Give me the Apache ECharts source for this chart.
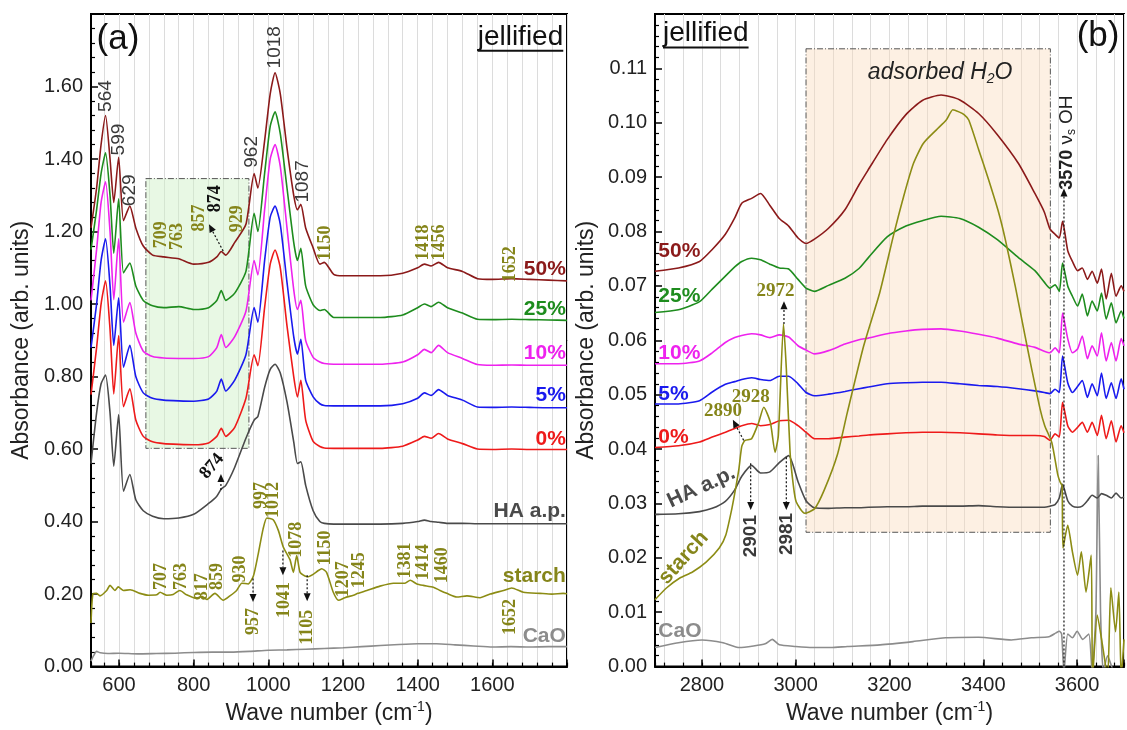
<!DOCTYPE html>
<html><head><meta charset="utf-8">
<script src="https://cdn.jsdelivr.net/npm/echarts@6/dist/echarts.min.js"></script>
<style>html,body{margin:0;padding:0;background:#fff;overflow:hidden}#c{width:1127px;height:730px}</style>
</head><body><div id="c"></div>
<script>
// ---------- Panel (a) data: 500-1800 cm-1 ----------
const waveA = [525,540,552,564,576,586,599,612,629,645,665,690,720,760,800,840,862,874,886,910,940,962,972,990,1005,1018,1032,1050,1068,1078,1087,1100,1120,1138,1150,1175,1200,1300,1360,1400,1418,1436,1456,1480,1520,1560,1600,1652,1700,1750,1800];
const a50 = [1.21,1.32,1.44,1.52,1.40,1.28,1.405,1.23,1.27,1.21,1.16,1.135,1.13,1.125,1.11,1.115,1.13,1.145,1.135,1.17,1.22,1.36,1.32,1.45,1.58,1.638,1.58,1.43,1.30,1.26,1.275,1.21,1.155,1.11,1.115,1.082,1.078,1.078,1.085,1.10,1.11,1.105,1.115,1.10,1.09,1.07,1.068,1.07,1.068,1.066,1.064];
const a25 = [1.15,1.26,1.36,1.417,1.30,1.14,1.29,1.086,1.113,1.05,1.01,0.995,0.99,0.993,0.985,0.99,1.01,1.037,1.01,1.03,1.09,1.25,1.20,1.36,1.49,1.53,1.47,1.32,1.17,1.12,1.154,1.05,0.998,0.982,0.985,0.963,0.963,0.963,0.97,0.99,1.00,0.993,1.005,0.99,0.975,0.958,0.957,0.958,0.957,0.956,0.955];
const a10 = [1.01,1.15,1.28,1.337,1.20,1.012,1.18,0.95,1.004,0.92,0.87,0.855,0.851,0.85,0.85,0.855,0.88,0.916,0.88,0.91,0.98,1.12,1.08,1.26,1.40,1.44,1.38,1.21,1.04,0.985,1.01,0.90,0.853,0.84,0.836,0.834,0.834,0.834,0.84,0.86,0.875,0.866,0.886,0.866,0.85,0.833,0.831,0.832,0.831,0.831,0.831];
const a5 = [0.88,1.00,1.12,1.18,1.05,0.886,1.017,0.826,0.886,0.80,0.755,0.74,0.735,0.733,0.732,0.738,0.76,0.793,0.76,0.79,0.86,0.99,0.95,1.12,1.24,1.27,1.22,1.06,0.91,0.862,0.903,0.79,0.744,0.725,0.72,0.719,0.719,0.719,0.725,0.74,0.755,0.748,0.764,0.748,0.735,0.716,0.715,0.716,0.715,0.714,0.714];
const a0 = [0.75,0.88,1.00,1.064,0.93,0.752,0.913,0.717,0.766,0.68,0.635,0.62,0.615,0.613,0.612,0.617,0.635,0.657,0.635,0.66,0.74,0.86,0.83,0.99,1.11,1.149,1.10,0.94,0.80,0.744,0.79,0.68,0.621,0.607,0.603,0.602,0.602,0.602,0.608,0.625,0.635,0.63,0.643,0.628,0.615,0.600,0.599,0.60,0.599,0.599,0.599];
const aHA = [0.56,0.70,0.78,0.804,0.70,0.553,0.695,0.484,0.53,0.46,0.43,0.415,0.408,0.41,0.42,0.45,0.47,0.49,0.50,0.55,0.63,0.68,0.69,0.77,0.82,0.834,0.81,0.73,0.62,0.56,0.565,0.50,0.43,0.40,0.395,0.393,0.393,0.393,0.395,0.40,0.404,0.40,0.398,0.395,0.395,0.394,0.394,0.394,0.394,0.394,0.394];
const waveStarchA = [525,530,540,549,567,576,589,598,612,630,656,679,701,710,728,745,763,781,808,822,835,857,879,897,915,929,946,960,972,986,996,1013,1027,1040,1058,1067,1076,1085,1098,1107,1121,1134,1143,1156,1174,1188,1205,1228,1240,1264,1299,1335,1366,1380,1398,1415,1442,1460,1478,1505,1532,1567,1594,1630,1652,1683,1728,1760,1790,1800];
const starchA = [0.12,0.20,0.202,0.195,0.21,0.224,0.21,0.22,0.21,0.212,0.202,0.197,0.198,0.205,0.197,0.199,0.21,0.198,0.188,0.194,0.185,0.202,0.183,0.195,0.21,0.23,0.228,0.25,0.306,0.38,0.41,0.405,0.375,0.33,0.295,0.26,0.306,0.26,0.25,0.248,0.255,0.265,0.27,0.26,0.205,0.183,0.19,0.197,0.202,0.21,0.222,0.23,0.23,0.238,0.228,0.224,0.219,0.21,0.202,0.192,0.195,0.19,0.2,0.21,0.217,0.205,0.202,0.2,0.202,0.201];
const waveCaOA = [525,532,540,550,570,600,650,700,750,800,850,900,950,1000,1050,1100,1150,1200,1250,1300,1350,1400,1450,1500,1550,1600,1650,1700,1750,1800];
const caoA = [0.015,0.03,0.042,0.038,0.036,0.037,0.035,0.036,0.037,0.039,0.04,0.04,0.042,0.045,0.046,0.048,0.05,0.052,0.055,0.058,0.061,0.063,0.063,0.06,0.057,0.054,0.055,0.054,0.055,0.055];

// ---------- Panel (b) data: 2700-3700 cm-1 ----------
const waveB = [2700,2750,2795,2822,2850,2870,2885,2906,2925,2945,2965,2985,3005,3022,3040,3070,3105,3135,3155,3195,3235,3270,3310,3350,3390,3430,3475,3510,3530,3542,3553,3562,3569,3580,3590,3601,3611,3622,3632,3643,3652,3662,3673,3683,3694,3700];
const b50 = [0.0727,0.0733,0.0745,0.0767,0.0795,0.0825,0.0852,0.0861,0.0870,0.0848,0.0824,0.0810,0.0788,0.0778,0.0786,0.0806,0.0840,0.0886,0.0914,0.0969,0.1015,0.1041,0.1051,0.1042,0.1017,0.0978,0.0925,0.0870,0.0836,0.0805,0.0795,0.0788,0.0819,0.0765,0.0745,0.0728,0.0733,0.0712,0.0727,0.0705,0.0731,0.0676,0.0723,0.0681,0.0700,0.0690];
const b25 = [0.0651,0.0656,0.0671,0.0694,0.0718,0.0735,0.0745,0.0751,0.0748,0.0740,0.0733,0.0731,0.0712,0.0696,0.0690,0.0701,0.0714,0.0732,0.0752,0.0790,0.0810,0.0820,0.0828,0.0824,0.0808,0.0785,0.0752,0.0728,0.0707,0.0696,0.0702,0.0690,0.0742,0.0700,0.0681,0.0663,0.0685,0.0645,0.0672,0.0654,0.0687,0.0639,0.0669,0.0632,0.0654,0.0640];
const b10 = [0.0557,0.0557,0.0562,0.0577,0.0596,0.0605,0.0609,0.0612,0.0610,0.0605,0.0610,0.0606,0.0590,0.0582,0.0575,0.0581,0.0593,0.0601,0.0604,0.0612,0.0617,0.0620,0.0621,0.0617,0.0611,0.0604,0.0593,0.0587,0.0580,0.0577,0.0586,0.0577,0.0650,0.0603,0.0577,0.0584,0.0608,0.0566,0.0590,0.0571,0.0614,0.0562,0.0596,0.0562,0.0603,0.0590];
const b5 = [0.0483,0.0483,0.0489,0.0505,0.0519,0.0524,0.0528,0.0531,0.0528,0.0526,0.0534,0.0534,0.0520,0.0504,0.0498,0.0501,0.0506,0.0511,0.0514,0.0520,0.0522,0.0523,0.0523,0.0520,0.0517,0.0515,0.0511,0.0507,0.0504,0.0502,0.0510,0.0504,0.0571,0.0522,0.0504,0.0515,0.0526,0.0495,0.0520,0.0498,0.0540,0.0493,0.0522,0.0493,0.0529,0.0510];
const b0 = [0.0403,0.0406,0.0413,0.0422,0.0431,0.0438,0.0443,0.0447,0.0443,0.0445,0.0452,0.0453,0.0443,0.0431,0.0419,0.0419,0.0422,0.0424,0.0426,0.0428,0.0430,0.0431,0.0431,0.0430,0.0428,0.0426,0.0425,0.0425,0.0423,0.0416,0.0428,0.0422,0.0486,0.0443,0.0431,0.0440,0.0449,0.0431,0.0449,0.0425,0.0462,0.0419,0.0452,0.0413,0.0443,0.0430];
const bHA = [0.0280,0.0281,0.0285,0.0291,0.0304,0.0325,0.0350,0.0370,0.0356,0.0358,0.0375,0.0388,0.0340,0.0305,0.0292,0.0291,0.0292,0.0292,0.0293,0.0294,0.0294,0.0295,0.0295,0.0295,0.0296,0.0294,0.0293,0.0293,0.0293,0.0295,0.0298,0.0310,0.0335,0.0305,0.0295,0.0293,0.0295,0.0305,0.0315,0.0310,0.0318,0.0315,0.0310,0.0319,0.0310,0.0312];
const waveStarchB = [2700,2725,2753,2780,2809,2837,2851,2864,2872,2879,2885,2892,2906,2921,2932,2946,2956,2963,2974,2980,2988,2995,3001,3019,3040,3061,3089,3110,3145,3179,3208,3230,3251,3272,3300,3321,3335,3348,3359,3369,3390,3411,3433,3447,3468,3489,3503,3521,3531,3546,3559,3564,3568,3570,3580,3590,3601,3609,3619,3630,3633,3643,3654,3665,3672,3682,3689,3694,3700];
const starchB = [0.0123,0.0145,0.0163,0.0174,0.0192,0.0218,0.0242,0.0291,0.0328,0.0364,0.0405,0.0416,0.0419,0.0449,0.0477,0.0449,0.0394,0.0425,0.0630,0.0548,0.0394,0.0333,0.0303,0.0282,0.0290,0.0325,0.0390,0.0467,0.0590,0.0687,0.0791,0.0864,0.0925,0.0962,0.0987,0.1005,0.1024,0.1020,0.1015,0.1005,0.0951,0.0896,0.0834,0.0785,0.0700,0.0608,0.0548,0.0474,0.0443,0.0412,0.0352,0.0339,0.0333,0.0218,0.0260,0.0211,0.0168,0.0211,0.0137,0.0205,-0.002,0.0095,0.0040,-0.002,0.0145,0.0064,0.0137,-0.002,0.0050];
const waveCaOB = [2700,2750,2800,2845,2880,2910,2935,2950,2965,3000,3035,3075,3110,3180,3250,3320,3390,3460,3503,3540,3555,3562,3567,3572,3580,3590,3600,3612,3625,3632,3640,3645,3650,3656,3665,3680,3700];
const caoB = [0.0035,0.0044,0.0049,0.0044,0.0035,0.0038,0.0042,0.0050,0.0040,0.0037,0.0035,0.0035,0.0037,0.0040,0.0046,0.0053,0.0054,0.0049,0.0053,0.0055,0.0062,0.0065,0.0060,-0.001,0.0060,0.0053,0.0065,0.0050,0.0060,-0.001,0.0100,0.0388,0.0100,-0.001,0.0020,-0.001,-0.001];

// tick labels
const xTickLabelsA = [600,800,1000,1200,1400,1600];
const xTickLabelsB = [2800,3000,3200,3400,3600];

// shaded regions (data coordinates)
const boxA = [[672, 1.346], [948, 0.602]];
const boxB = [[3022, 0.1136], [3543, 0.0247]];

const SANS = '"Liberation Sans", Arial, Helvetica, sans-serif';
const SERIF = '"Liberation Serif", "Times New Roman", serif';
const COL = {p50:'#8b1a1a', p25:'#1e8c1e', p10:'#ee22ee', p5:'#1a1aee', p0:'#ee1a1a', ha:'#4a4a4a', starch:'#8c8c14', starchTxt:'#85851a', cao:'#8c8c8c'};

function line(xs, ys, color, xi, yi, z) {
  return {type:'line', xAxisIndex:xi, yAxisIndex:yi, data: xs.map((x,i)=>[x, ys[i]]),
    symbol:'none', showSymbol:false, smooth:0.2, clip:true, silent:true, z:z||3,
    lineStyle:{color, width:1.6}, itemStyle:{color}};
}

function xMajor(g, min, max, labels) {
  return {gridIndex:g, type:'value', min, max, minInterval:200, maxInterval:200, position:'bottom',
    axisLine:{show:true, onZero:false, lineStyle:{color:'#000', width:2}},
    axisTick:{inside:true, length:7, lineStyle:{color:'#000', width:1.5}},
    axisLabel:{formatter:v=>labels.indexOf(Math.round(v))>=0 ? String(Math.round(v)) : '', fontSize:20, color:'#222', margin:9, fontFamily:SANS},
    splitLine:{show:false},
    name:'Wave number (cm{sup|-1})', nameLocation:'middle', nameGap:32,
    nameTextStyle:{fontSize:23, color:'#222', fontFamily:SANS, verticalAlign:'top',
      rich:{sup:{fontSize:14, color:'#222', fontFamily:SANS, verticalAlign:'top', padding:[0,0,12,0]}}}};
}
function xMinor(g, min, max) {
  return {gridIndex:g, type:'value', min, max, minInterval:40, maxInterval:40, position:'bottom',
    axisLine:{show:false}, axisTick:{inside:true, length:4, lineStyle:{color:'#000', width:1.2}},
    axisLabel:{show:false}, splitLine:{show:true, lineStyle:{color:'#dcdcdc', width:1}}};
}
function yAx(g, max, interval, gap) {
  return {gridIndex:g, type:'value', min:0, max, interval,
    axisLine:{show:true, onZero:false, lineStyle:{color:'#000', width:2}},
    axisTick:{inside:true, length:7, lineStyle:{color:'#000', width:1.5}},
    minorTick:{show:true, splitNumber:5, length:4, lineStyle:{color:'#000', width:1.2}},
    axisLabel:{formatter:v=> v > max - interval/2 ? '' : v.toFixed(2), fontSize:20, color:'#222', margin:8, fontFamily:SANS},
    splitLine:{show:false},
    name:'Absorbance (arb. units)', nameLocation:'middle', nameGap:gap,
    nameTextStyle:{fontSize:23, color:'#222', fontFamily:SANS}};
}

const option = {
  animation:false,
  backgroundColor:'#fff',
  grid:[
    {left:91, top:14, width:476, height:658, show:true, borderColor:'#000', borderWidth:2, backgroundColor:'transparent'},
    {left:655, top:14, width:475, height:658, show:true, borderColor:'#000', borderWidth:2, backgroundColor:'transparent'}
  ],
  xAxis:[ xMajor(0,525,1800,xTickLabelsA), xMinor(0,525,1800), xMajor(1,2700,3700,xTickLabelsB), xMinor(1,2700,3700) ],
  yAxis:[ yAx(0,1.8,0.2,58), yAx(1,0.12,0.01,57) ],
  series:[
    {type:'line', xAxisIndex:0, yAxisIndex:0, data:[], z:1, silent:true,
      markArea:{silent:true, itemStyle:{color:'rgba(205,240,195,0.45)', borderColor:'#555', borderWidth:1, borderType:[6,2,1,2]},
        data:[[{coord:boxA[0]},{coord:boxA[1]}]]}},
    {type:'line', xAxisIndex:2, yAxisIndex:1, data:[], z:1, silent:true,
      markArea:{silent:true, itemStyle:{color:'rgba(250,218,185,0.4)', borderColor:'#555', borderWidth:1, borderType:[6,2,1,2]},
        data:[[{coord:boxB[0]},{coord:boxB[1]}]]}},
    line(waveCaOA, caoA, COL.cao, 0, 0),
    line(waveStarchA, starchA, COL.starch, 0, 0),
    line(waveA, aHA, COL.ha, 0, 0),
    line(waveA, a0, COL.p0, 0, 0),
    line(waveA, a5, COL.p5, 0, 0),
    line(waveA, a10, COL.p10, 0, 0),
    line(waveA, a25, COL.p25, 0, 0),
    line(waveA, a50, COL.p50, 0, 0),
    line(waveCaOB, caoB, COL.cao, 2, 1),
    line(waveB, bHA, COL.ha, 2, 1),
    line(waveB, b0, COL.p0, 2, 1),
    line(waveB, b5, COL.p5, 2, 1),
    line(waveB, b10, COL.p10, 2, 1),
    line(waveB, b25, COL.p25, 2, 1),
    line(waveB, b50, COL.p50, 2, 1),
    line(waveStarchB, starchB, COL.starch, 2, 1, 4)
  ]
};

const chart = echarts.init(document.getElementById('c'), null, {renderer:'canvas'});
chart.setOption(option);

// ---------- annotations (positioned in data coordinates) ----------
const P = (g, x, y) => chart.convertToPixel({xAxisIndex: g===0 ? 0 : 2, yAxisIndex: g}, [x, y]);
const els = [];
function addText(g, x, y, text, st, rotDeg) {
  const p = P(g, x, y);
  const style = Object.assign({text, fill:'#000', fontSize:18, fontFamily:SANS, fontWeight:'normal',
    align:'left', verticalAlign:'middle'}, st);
  style.textAlign = style.align; style.textVerticalAlign = style.verticalAlign;
  els.push({type:'text', x:p[0], y:p[1], rotation:(rotDeg||0)*Math.PI/180, z:100, silent:true, style});
}
function addArrow(g, x1, y1, x2, y2, color, dash, lw) {
  const a = P(g, x1, y1), b = P(g, x2, y2);
  const dx = b[0]-a[0], dy = b[1]-a[1], L = Math.hypot(dx, dy), ux = dx/L, uy = dy/L;
  const hl = 8, hw = 3.5, bx = b[0]-ux*hl, by = b[1]-uy*hl;
  els.push({type:'line', z:100, silent:true, shape:{x1:a[0], y1:a[1], x2:bx, y2:by},
    style:{stroke:color, lineWidth:lw||1.2, lineDash:dash||[2,2]}});
  els.push({type:'polygon', z:100, silent:true, shape:{points:[[b[0],b[1]],[bx-uy*hw, by+ux*hw],[bx+uy*hw, by-ux*hw]]},
    style:{fill:color}});
}
const measure = (() => { const c = document.createElement('canvas').getContext('2d');
  return (t, f) => { c.font = f; return c.measureText(t).width; }; })();

// panel (a) vertical peak labels (anchor = bottom of text)
const peakLabelsA = [['564',564,1.53],['599',600,1.41],['629',629,1.27],['962',956,1.376],['1018',1018,1.65],['1087',1093,1.28]];
peakLabelsA.forEach(l => addText(0, l[1], l[2], l[0], {fill:'#3a3a3a', fontSize:19}, 90));
const oliveLabelsA = [['709',713,1.154],['763',755,1.149],['857',814,1.20],['929',916,1.198],['1150',1152,1.12],['1418',1414,1.12],['1456',1457,1.12],['1652',1647,1.06]];
oliveLabelsA.forEach(l => addText(0, l[1], l[2], l[0], {fill:COL.starchTxt, fontSize:18, fontFamily:SERIF, fontWeight:'bold'}, 90));
addText(0, 857, 1.253, '874', {fill:'#111', fontSize:18, fontFamily:SERIF, fontWeight:'bold'}, 90);
const starchLabelsA = [['707',713,0.211],['763',766,0.211],['817',822,0.183],['859',863,0.211],['930',924,0.232],['997',980,0.435],['1012',1013,0.41],['1078',1074,0.30],['1150',1152,0.279],['1207',1200,0.191],['1245',1243,0.216],['1381',1366,0.243],['1414',1414,0.238],['1460',1465,0.23],['1652',1647,0.0875],['957',959,0.0875],['1041',1042,0.134],['1105',1104,0.06]];
starchLabelsA.forEach(l => addText(0, l[1], l[2], l[0], {fill:COL.starchTxt, fontSize:18, fontFamily:SERIF, fontWeight:'bold'}, 90));
addText(0, 849, 0.5525, '874', {fill:'#111', fontSize:18, fontFamily:SERIF, fontWeight:'bold', align:'center'}, 50);
[[879,1.146,841,1.22],[873,0.487,873,0.531],[959,0.243,959,0.178],[1039,0.32,1039,0.252],[1104,0.252,1104,0.18]]
  .forEach(a => addArrow(0, a[0], a[1], a[2], a[3], '#111'));

// panel (a) series labels
const seriesLabelsA = [['50%',1.097,COL.p50],['25%',0.985,COL.p25],['10%',0.864,COL.p10],['5%',0.749,COL.p5],['0%',0.626,COL.p0],['HA a.p.',0.429,COL.ha],['starch',0.249,COL.starchTxt],['CaO',0.085,COL.cao]];
seriesLabelsA.forEach(l => addText(0, 1797, l[1], l[0], {fill:l[2], fontSize:21, fontWeight:'bold', align:'right'}));

// panel (a) titles
addText(0, 540, 1.731, '(a)', {fill:'#111', fontSize:35});
const jf = '28px ' + SANS;
addText(0, 1790, 1.737, 'jellified', {fill:'#111', fontSize:28, align:'right'});
{ const p = P(0, 1790, 1.737), w = measure('jellified', jf);
  els.push({type:'line', z:100, silent:true, shape:{x1:p[0]-w, y1:p[1]+14, x2:p[0], y2:p[1]+14}, style:{stroke:'#111', lineWidth:2}}); }

// panel (b) annotations
addText(1, 3599, 0.1159, '(b)', {fill:'#111', fontSize:35});
addText(1, 2717, 0.1164, 'jellified', {fill:'#111', fontSize:28});
{ const p = P(1, 2717, 0.1164), w = measure('jellified', jf);
  els.push({type:'line', z:100, silent:true, shape:{x1:p[0], y1:p[1]+14, x2:p[0]+w, y2:p[1]+14}, style:{stroke:'#111', lineWidth:2}}); }
addText(1, 3308, 0.1092, '{i|adsorbed H}{s|2}{i|O}', {align:'center', fill:'#222',
  rich:{i:{fontSize:23, fontStyle:'italic', fontFamily:SANS, fill:'#222'}, s:{fontSize:14, fontStyle:'italic', fontFamily:SANS, fill:'#222', padding:[12,0,0,0]}}});
const oliveLabelsB = [['2972',2957,0.069],['2928',2904,0.0495],['2890',2845,0.0469]];
oliveLabelsB.forEach(l => addText(1, l[1], l[2], l[0], {fill:COL.starchTxt, fontSize:19, fontFamily:SERIF, fontWeight:'bold', align:'center'}));
const grayLabelsB = [['2901',2904,0.0201],['2981',2982,0.0205]];
grayLabelsB.forEach(l => addText(1, l[1], l[2], l[0], {fill:'#3a3a3a', fontSize:19, fontWeight:'bold'}, 90));
addText(1, 3578, 0.0877, '{b|3570} {n|ν}{s|s} {n|OH}', {fill:'#222',
  rich:{b:{fontSize:18, fontWeight:'bold', fontFamily:SANS, fill:'#222'}, n:{fontSize:19, fontFamily:SANS, fill:'#222'}, s:{fontSize:12, fontFamily:SANS, fill:'#222', padding:[10,0,0,0]}}}, 90);
[[2975,0.063,2975,0.0672],[2889,0.0416,2866,0.0454],[2904,0.0374,2904,0.0288],[2980,0.0385,2980,0.0288],[3572,0,3572,0.0879]]
  .forEach(a => addArrow(1, a[0], a[1], a[2], a[3], '#111'));
const seriesLabelsB = [['50%',0.0764,COL.p50],['25%',0.0681,COL.p25],['10%',0.0577,COL.p10],['5%',0.0500,COL.p5],['0%',0.0421,COL.p0],['CaO',0.0066,COL.cao]];
seriesLabelsB.forEach(l => addText(1, 2707, l[1], l[0], {fill:l[2], fontSize:21, fontWeight:'bold'}));
addText(1, 2799, 0.033, 'HA a.p.', {fill:COL.ha, fontSize:21, fontWeight:'bold', align:'center'}, 25);
addText(1, 2761, 0.020, 'starch', {fill:COL.starchTxt, fontSize:21, fontWeight:'bold', align:'center'}, 48);

chart.setOption({graphic:{elements:els}});
</script>
</body></html>
